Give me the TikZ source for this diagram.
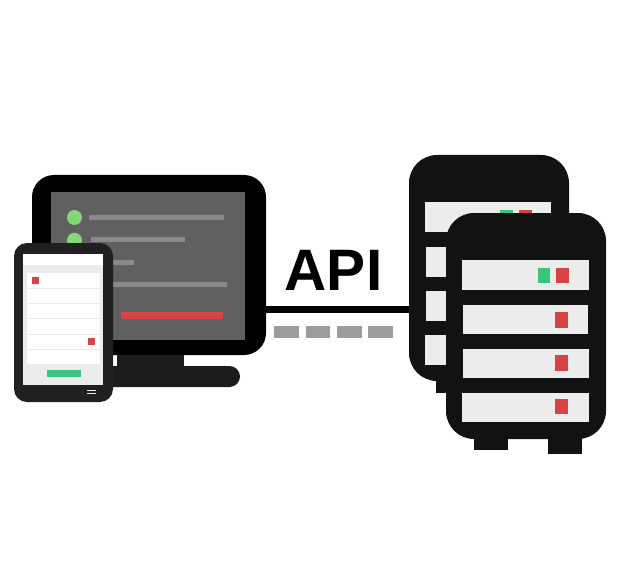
\documentclass[tikz,border=0pt]{standalone}
\usepackage{fontspec}
\setmainfont{Liberation Sans}
\definecolor{screen}{HTML}{606060}
\definecolor{dark}{HTML}{1C1C1C}
\definecolor{phonec}{HTML}{202020}
\definecolor{srv}{HTML}{121212}
\definecolor{rowc}{HTML}{ECECEC}
\definecolor{redc}{HTML}{D84343}
\definecolor{greenc}{HTML}{3CC47F}
\definecolor{dotc}{HTML}{86D67A}
\definecolor{barc}{HTML}{8A8A8A}
\definecolor{dashc}{HTML}{9C9C9C}
\tikzset{
  body/.style={inner sep=0pt,outer sep=0pt,draw=none,rectangle},
  monitorbody/.style={body,fill=black,rounded corners=22pt,minimum width=234pt,minimum height=180pt},
  serverbody/.style={body,fill=srv,rounded corners=28pt,minimum width=160pt,minimum height=226pt},
  phonebody/.style={body,fill=phonec,rounded corners=13pt,minimum width=99pt,minimum height=159pt},
  apilabel/.style={inner sep=0pt,outer sep=0pt,anchor=base,font=\fontsize{58.5}{58.5}\selectfont\bfseries},
  link/.style={draw=black,line width=7pt},
}
\begin{document}
\begin{tikzpicture}[x=1pt,y=-1pt]
\useasboundingbox (0,0) rectangle (626,580);
\coordinate (level) at (0,309.5);
% nodes
\node[monitorbody] (monitor) at (149,265) {};
\node[serverbody] (backserver) at (489,268) {};
% connector
\draw[link] (monitor.east |- level) -- (backserver.west |- level);
% dashes
\foreach \a/\b in {274.3/298.7,306/330,337/361.6,368/392.5}
  \fill[dashc] (\a,326) rectangle (\b,338);
% monitor content
\fill[screen] (51,192) rectangle (245,340);
\fill[dotc] (74.5,217.5) circle (7.5);
\fill[dotc] (74.5,240.3) circle (7.5);
\fill[barc] (89,215) rectangle (224,220);
\fill[barc] (91,237) rectangle (185,242);
\fill[barc] (100,260) rectangle (134,265);
\fill[barc] (100,282) rectangle (227,287);
\fill[redc] (121,312) rectangle (223,319);
\fill[dark] (117,355) rectangle (184,367);
\fill[dark,rounded corners=10.5pt] (100,366) rectangle (240,387);
% back server content
\fill[rowc] (425,202) rectangle (551,232);
\fill[rowc] (426,247) rectangle (450,277);
\fill[rowc] (426,291) rectangle (450,321);
\fill[rowc] (425,335) rectangle (450,365);
\fill[greenc] (500,210) rectangle (513,225);
\fill[redc] (519,210) rectangle (532,225);
\fill[srv] (436,375) rectangle (470,393);
% front server
\fill[srv] (473.5,430) rectangle (507.5,450);
\fill[srv] (548,430) rectangle (582,454);
\node[serverbody] (frontserver) at (526,326) {};
\fill[rowc] (462.3,260) rectangle (588.5,289.5);
\fill[rowc] (463,305) rectangle (588,334);
\fill[rowc] (463,349) rectangle (589,378);
\fill[rowc] (461.5,392.5) rectangle (589,422);
\fill[greenc] (537.5,268) rectangle (550,283);
\fill[redc] (556,268) rectangle (569,283);
\fill[redc] (554.5,312) rectangle (567.5,327.5);
\fill[redc] (554.5,355) rectangle (567.5,370.5);
\fill[redc] (554.5,398.5) rectangle (567.5,414);
% API label
\node[apilabel] (api) at (333.5,290) {API};
% phone
\node[phonebody] (phone) at (63.5,322.5) {};
\fill[rowc] (23,254) rectangle (103,385);
\fill[white] (23,254) rectangle (103,265);
\foreach \a/\b in {273/288,289/303,304/318,319/334,335/349,350/364}
  \fill[white] (27,\a) rectangle (100,\b);
\fill[redc] (32,277) rectangle (39,284);
\fill[redc] (88,338) rectangle (95,345);
\fill[greenc] (47,370) rectangle (80.5,377);
\fill[rowc] (87,389.5) rectangle (96,390.5);
\fill[rowc] (87,393) rectangle (96,394);
\end{tikzpicture}
\end{document}
